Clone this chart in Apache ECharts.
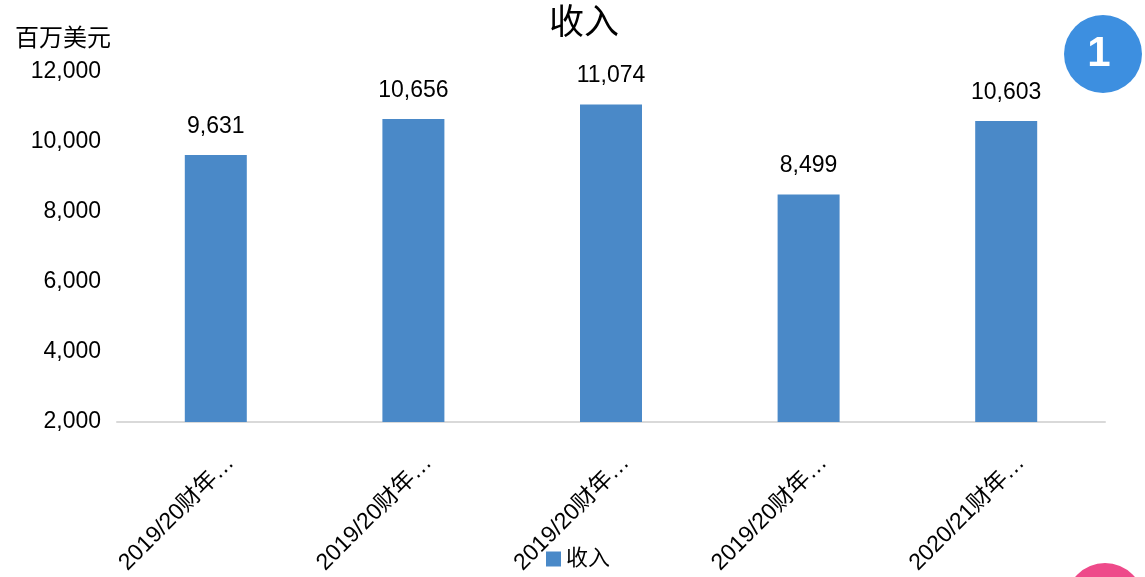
<!DOCTYPE html>
<html><head><meta charset="utf-8">
<script src="https://cdn.jsdelivr.net/npm/echarts@6/dist/echarts.min.js"></script>
<style>html,body{margin:0;padding:0;background:#fff}#c{width:1145px;height:577px}</style>
</head><body><div id="c"></div>
<script>
const categories = ["2019/20财年…", "2019/20财年…", "2019/20财年…", "2019/20财年…", "2020/21财年…"];
const revenue = [9631, 10656, 11074, 8499, 10603];
const seriesName = "收入";
const titleText = "收入";
const unitText = "百万美元";
const yMin = 2000, yMax = 12000, yInterval = 2000;

const FONT = "'Liberation Sans', Arial, 'Noto Sans CJK SC', sans-serif";
const chart = echarts.init(document.getElementById('c'));
chart.setOption({
  backgroundColor: '#fff',
  textStyle: { fontFamily: FONT },
  title: { text: titleText, left: 544, top: 2, textStyle: { fontSize: 35, fontWeight: 'normal', color: '#000', fontFamily: FONT } },
  legend: { data: [seriesName], top: 543, left: 541, itemWidth: 15, itemHeight: 15, itemGap: 6, icon: 'rect',
    textStyle: { fontSize: 22, color: '#000', fontFamily: FONT } },
  grid: { left: 117, right: 40, top: 72, bottom: 155 },
  xAxis: { type: 'category', data: categories,
    axisLine: { lineStyle: { color: '#d9d9d9', width: 2 } },
    axisTick: { show: false },
    axisLabel: { rotate: 45, fontSize: 23, color: '#000', margin: 52, fontFamily: FONT, interval: 0,
      padding: [0, -21, 0, 0] } },
  yAxis: { type: 'value', min: yMin, max: yMax, interval: yInterval,
    name: unitText, nameLocation: 'end', nameGap: 21,
    nameTextStyle: { fontSize: 24, color: '#000', align: 'right', padding: [0, 6, 0, 0], fontFamily: FONT },
    axisLine: { show: false }, axisTick: { show: false }, splitLine: { show: false },
    axisLabel: { fontSize: 23, color: '#000', margin: 16, fontFamily: FONT,
      formatter: v => v.toLocaleString('en-US') } },
  series: [{ name: seriesName, type: 'bar', data: revenue, barWidth: 62,
    itemStyle: { color: '#4a89c8' },
    label: { show: true, position: 'top', distance: 17, fontSize: 23, color: '#000', fontFamily: FONT,
      formatter: p => p.value.toLocaleString('en-US') } }],
  graphic: [
    { type: 'circle', shape: { cx: 1103, cy: 54, r: 39 }, style: { fill: '#3d8fe0' } },
    { type: 'text', x: 1099, y: 54, style: { text: '1', fill: '#fff', font: 'bold 42px ' + FONT, textAlign: 'center', textVerticalAlign: 'middle' } },
    { type: 'circle', shape: { cx: 1105, cy: 602, r: 39 }, style: { fill: '#ee4a8a' } }
  ]
});
</script></body></html>
